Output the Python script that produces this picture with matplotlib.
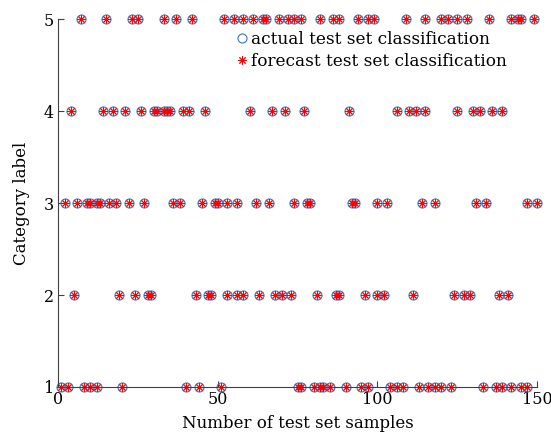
import matplotlib.pyplot as plt
import numpy as np

# sample index per category
cat1 = [1, 3, 8, 10, 12, 20, 40, 44, 51, 75, 76, 80, 82, 83, 85, 90, 95, 97,
        104, 106, 108, 113, 116, 118, 120, 123, 133, 137, 139, 142, 145, 147]
cat2 = [5, 19, 24, 28, 29, 43, 47, 48, 53, 56, 58, 63, 68, 70, 73, 81, 87, 88,
        96, 100, 102, 111, 124, 127, 129, 138, 141]
cat3 = [2, 6, 9, 10, 12, 13, 16, 18, 22, 27, 36, 38, 45, 49, 50, 53, 56, 62,
        66, 74, 78, 79, 92, 93, 100, 103, 114, 118, 131, 134, 147, 150]
cat4 = [4, 14, 17, 21, 26, 30, 31, 33, 34, 35, 39, 41, 46, 60, 67, 71, 77, 91,
        106, 110, 112, 115, 125, 130, 132, 136, 139]
cat5 = [7, 15, 23, 25, 33, 37, 42, 52, 55, 58, 61, 64, 65, 69, 72, 74, 76, 82,
        86, 88, 94, 97, 99, 109, 115, 120, 122, 125, 128, 135, 142, 144, 145, 149]

xs = []
ys = []
for label, idx in zip([1, 2, 3, 4, 5], [cat1, cat2, cat3, cat4, cat5]):
    xs += idx
    ys += [label] * len(idx)
xs = np.array(xs)
ys = np.array(ys)

plt.rcParams['font.family'] = ['DejaVu Serif']

fig = plt.figure(figsize=(5.51, 4.34), dpi=100)
ax = fig.add_axes([0.1058, 0.1083, 0.8688, 0.8477])

ax.plot(xs, ys, 'o', markersize=6.5, markerfacecolor='none',
        markeredgecolor='#3a72c4', markeredgewidth=0.8, clip_on=False,
        label='actual test set classification')
ax.plot(xs, ys, linestyle='none', marker=(8, 2, 0), markersize=6,
        color='red', markeredgewidth=0.7, clip_on=False,
        label='forecast test set classification')

ax.set_xlim(0, 150)
ax.set_ylim(1, 5)
ax.set_xticks([0, 50, 100, 150])
ax.set_yticks([1, 2, 3, 4, 5])
ax.tick_params(direction='in', length=4, labelsize=11.5, colors='#404040',
               labelcolor='black', pad=3)
for s in ['top', 'right']:
    ax.spines[s].set_visible(False)
for s in ['left', 'bottom']:
    ax.spines[s].set_color('#404040')
    ax.spines[s].set_linewidth(0.8)

ax.set_xlabel('Number of test set samples', fontsize=12, labelpad=5)
ax.set_ylabel('Category label', fontsize=12, labelpad=10)

ax.legend(loc='upper left', bbox_to_anchor=(0.36, 0.985), frameon=False,
          fontsize=12.2, handlelength=0.6, handletextpad=0.2,
          borderaxespad=0, labelspacing=0.25)

fig.savefig('out.png', dpi=100)
